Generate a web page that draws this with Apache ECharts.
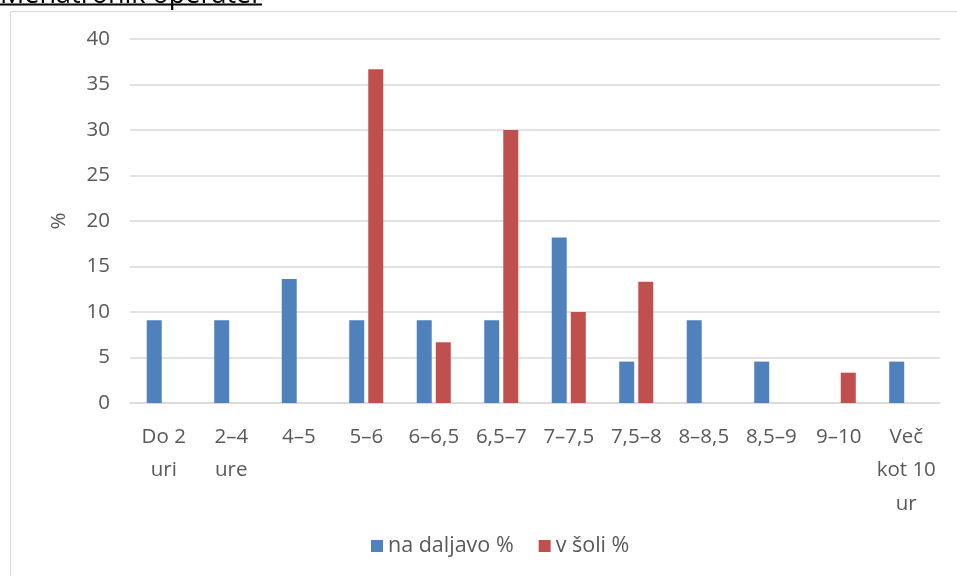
<!DOCTYPE html>
<html>
<head>
<meta charset="utf-8">
<script src="https://cdn.jsdelivr.net/npm/echarts@6/dist/echarts.min.js"></script>
<style>
  html, body { margin: 0; padding: 0; background: #fff; }
  #chart { width: 957px; height: 576px; }
</style>
</head>
<body>
<div id="chart"></div>
<script>
// podatki
const categories = ['Do 2\nuri', '2–4\nure', '4–5', '5–6', '6–6,5', '6,5–7', '7–7,5', '7,5–8', '8–8,5', '8,5–9', '9–10', 'Več\nkot 10\nur']
const naDaljavo = [9.09, 9.09, 13.64, 9.09, 9.09, 9.09, 18.18, 4.55, 9.09, 4.55, 0, 4.55]
const vSoli = [0, 0, 0, 36.67, 6.67, 30, 10, 13.33, 0, 0, 3.33, 0]
const seriesNames = ['na daljavo %', 'v šoli %']
const titleText = 'Mehatronik operater'

const font = "'Open Sans', 'Noto Sans', sans-serif"
const textColor = '#595959'
const fontSize = 20.5

const chart = echarts.init(document.getElementById('chart'))
chart.setOption({
  animation: false,
  textStyle: { fontFamily: font },
  graphic: [
    {
      type: 'rect',
      shape: { x: 10.5, y: 11.5, width: 960, height: 600 },
      style: { fill: 'none', stroke: '#d9d9d9', lineWidth: 1 }
    },
    {
      type: 'text',
      x: 0,
      y: 9,
      style: { text: titleText, font: "27px 'Open Sans', sans-serif", fill: '#000', verticalAlign: 'bottom' }
    },
    {
      type: 'rect',
      shape: { x: 0, y: 3.5, width: 262, height: 2 },
      style: { fill: '#000' }
    }
  ],
  grid: {
    left: 130,
    right: 17,
    top: 39,
    bottom: 173
  },
  legend: {
    bottom: 14,
    left: 366,
    itemWidth: 12,
    itemHeight: 12,
    itemGap: 25,
    icon: 'rect',
    textStyle: { fontSize: 21.5, color: textColor, fontFamily: font }
  },
  xAxis: {
    type: 'category',
    data: categories,
    axisLine: { lineStyle: { color: '#d9d9d9', width: 1.5 } },
    axisTick: { show: false },
    axisLabel: {
      interval: 0,
      margin: 17,
      fontSize: fontSize,
      lineHeight: 33.5,
      color: textColor,
      fontFamily: font
    }
  },
  yAxis: {
    type: 'value',
    min: 0,
    max: 40,
    interval: 5,
    name: '%',
    nameLocation: 'middle',
    nameRotate: 90,
    nameGap: 60,
    nameTextStyle: { fontSize: fontSize, color: textColor, fontFamily: font },
    axisLine: { show: false },
    axisTick: { show: false },
    axisLabel: { fontSize: fontSize, color: textColor, margin: 20, fontFamily: font },
    splitLine: { lineStyle: { color: '#d9d9d9', width: 1.5 } }
  },
  series: [
    {
      name: seriesNames[0],
      type: 'bar',
      data: naDaljavo,
      barWidth: 15,
      barGap: '27%',
      itemStyle: { color: '#4f81bd' }
    },
    {
      name: seriesNames[1],
      type: 'bar',
      data: vSoli,
      barWidth: 15,
      itemStyle: { color: '#c0504d' }
    }
  ]
})
</script>
</body>
</html>
